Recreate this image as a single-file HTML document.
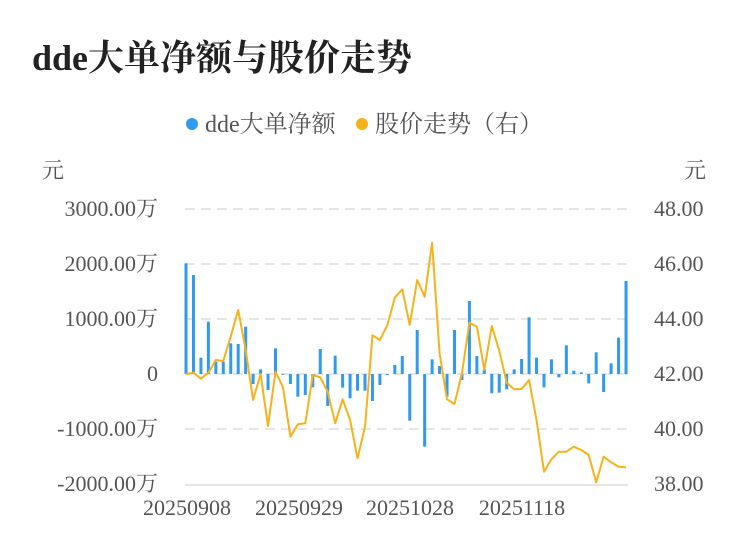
<!DOCTYPE html>
<html><head><meta charset="utf-8"><style>
html,body{margin:0;padding:0;background:#fff;width:750px;height:558px;overflow:hidden}
svg{display:block;font-family:"Liberation Serif","Noto Serif CJK SC","Noto Sans CJK SC",serif}
</style></head><body>
<svg id="c" width="750" height="558" xmlns="http://www.w3.org/2000/svg">
<text x="32" y="70" font-size="36" font-weight="bold" fill="#222">dde大单净额与股价走势</text>
<circle cx="192" cy="124" r="6" fill="#2f9af0"/>
<text x="205" y="132" font-size="24" fill="#555">dde大单净额</text>
<circle cx="362" cy="124" r="6" fill="#f5b21a"/>
<text x="375" y="132" font-size="24" fill="#555">股价走势（右）</text>
<text x="42" y="178" font-size="22" fill="#555">元</text>
<text x="684" y="178" font-size="22" fill="#555">元</text>
<g stroke="#e6e6e6" stroke-width="2" stroke-dasharray="10,6">
<line x1="185" x2="628" y1="209" y2="209"/><line x1="185" x2="628" y1="264" y2="264"/>
<line x1="185" x2="628" y1="319" y2="319"/><line x1="185" x2="628" y1="374" y2="374"/>
<line x1="185" x2="628" y1="429" y2="429"/>
</g>
<line x1="185" x2="628" y1="485" y2="485" stroke="#e6e6e6" stroke-width="2"/>
<g font-size="22" fill="#555" text-anchor="end">
<text x="158" y="216">3000.00万</text><text x="158" y="271">2000.00万</text>
<text x="158" y="326">1000.00万</text><text x="158" y="381">0</text>
<text x="158" y="436">-1000.00万</text><text x="158" y="491">-2000.00万</text>
</g>
<g font-size="22" fill="#555">
<text x="654" y="216">48.00</text><text x="654" y="271">46.00</text>
<text x="654" y="326">44.00</text><text x="654" y="381">42.00</text>
<text x="654" y="436">40.00</text><text x="654" y="491">38.00</text>
</g>
<g font-size="22" fill="#555" text-anchor="middle">
<text x="187" y="515">20250908</text><text x="299" y="515">20250929</text>
<text x="410" y="515">20251028</text><text x="522" y="515">20251118</text>
</g>
<g id="bars" fill="#2f9af0"></g>
<polyline id="ln" fill="none" stroke="#f5b21a" stroke-width="2" stroke-linejoin="round"/>
</svg>
<script>
var b=[100,135,383,275,395,395,340,342,290,462,418,480,355,434,462,500,495,472,357,528,377,473,505,482,482,513,465,435,405,378,572,300,650,388,408,500,300,450,213,378,418,490,488,478,418,387,262,383,472,388,442,346,422,427,460,367,486,400,323,153];
var l=[432,428,446,428,390,393,320,240,360,510,432,588,425,472,620,583,580,435,442,485,580,508,570,685,590,316,330,285,203,178,285,150,200,38,370,508,522,430,278,290,420,288,362,458,478,477,450,570,725,688,665,665,650,660,675,757,680,697,710,712];
var g=document.getElementById('bars'),pts=[],ns='http://www.w3.org/2000/svg';
for(var i=0;i<60;i++){var x=186+7.458*i,y=230+b[i]/3,y0=374;
var r=document.createElementNS(ns,'rect');r.setAttribute('x',x-1.5);r.setAttribute('width',3);
r.setAttribute('y',Math.min(y,y0));r.setAttribute('height',Math.max(Math.abs(y-y0),0.8));g.appendChild(r);
pts.push(x.toFixed(1)+','+(230+l[i]/3).toFixed(1));}
document.getElementById('ln').setAttribute('points',pts.join(' '));
</script>
</body></html>
